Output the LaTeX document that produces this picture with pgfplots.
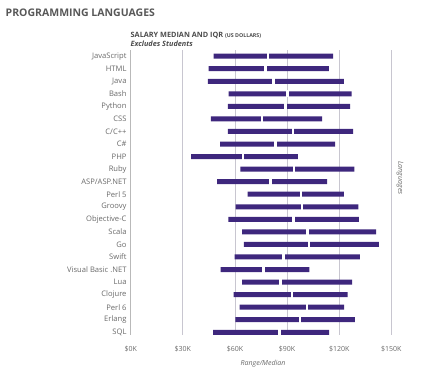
\documentclass[border=0pt]{standalone}
\usepackage{pgfplots}
\usepackage{pgfplotstable}
\pgfplotsset{compat=1.18}
\usepackage{fontspec}
\setmainfont{Open Sans}
\definecolor{barc}{RGB}{62,39,125}
\definecolor{tickc}{RGB}{105,105,105}
\definecolor{gridc}{RGB}{200,198,208}
\definecolor{titlec}{RGB}{88,88,88}
\pgfplotstableread{
row q1 med q3
0 47.7 79.0 116.5
1 44.8 77.5 114.0
2 44.4 82.1 122.7
3 56.3 90.2 127.1
4 56.0 89.0 126.3
5 46.2 75.6 110.2
6 56.0 93.5 128.0
7 51.5 83.3 117.7
8 34.8 64.6 96.2
9 63.1 94.0 128.7
10 49.8 80.4 113.1
11 67.3 98.1 122.7
12 60.4 98.5 131.0
13 56.2 93.8 131.3
14 64.2 101.7 141.2
15 65.2 102.7 142.9
16 59.8 87.9 131.9
17 51.7 76.5 102.9
18 64.2 86.3 127.5
19 59.2 92.9 124.8
20 62.7 101.5 122.9
21 60.2 97.5 129.0
22 47.5 85.6 114.2
}\datatable
\begin{document}
\begin{tikzpicture}
\useasboundingbox (0,0) rectangle (445pt,384pt);
\begin{axis}[
  at={(130.7pt,48.7pt)}, anchor=south west,
  scale only axis, width=260.6pt, height=285.3pt,
  xmin=0, xmax=150, ymin=-0.49, ymax=22.24,
  y dir=reverse,
  xbar stacked, bar width=5pt,
  axis line style={draw=none},
  major tick length=0pt,
  xtick={0,30,60,90,120,150},
  xticklabels={\$0K,\$30K,\$60K,\$90K,\$120K,\$150K},
  ytick={0,...,22},
  yticklabels={JavaScript,HTML,Java,Bash,Python,CSS,C/C++,C\#,PHP,Ruby,ASP/ASP.NET,Perl 5,Groovy,Objective-C,Scala,Go,Swift,Visual Basic .NET,Lua,Clojure,Perl 6,Erlang,SQL},
  xmajorgrids, grid style={gridc, line width=0.8pt},
  ticklabel style={font=\fontsize{7}{8}\selectfont, text=tickc},
  yticklabel style={anchor=east, inner sep=0pt, xshift=-4pt, font=\fontsize{7.6}{8}\selectfont},
  xticklabel style={anchor=base, yshift=-16pt, inner sep=0pt},
  clip=false,
]
\addplot[draw=none, fill=none] table[x=q1, y=row] {\datatable};
\addplot[draw=none, fill=barc] table[x expr=\thisrow{med}-\thisrow{q1}, y=row] {\datatable};
\addplot[draw=none, fill=barc] table[x expr=\thisrow{q3}-\thisrow{med}, y=row] {\datatable};
\addplot[stack plots=false, only marks, mark=|, mark size=3.4pt, mark options={draw=white, line width=2.6pt}] table[x=med, y=row] {\datatable};
\draw[color=gray!55, line width=1.5pt] (axis cs:0,-0.49) -- (axis cs:0,22.24);
\end{axis}
\node[anchor=base west, inner sep=0pt, text=titlec, font=\fontsize{10.5}{12}\selectfont\bfseries] at (5.5pt,367pt) {PROGRAMMING LANGUAGES};
\node[anchor=base west, inner sep=0pt, text=titlec!85!black, font=\fontsize{7.3}{8}\selectfont\bfseries] at (130.5pt,346.7pt) {SALARY MEDIAN AND IQR {\fontsize{5.3}{6}\selectfont (US DOLLARS)}};
\node[anchor=base west, inner sep=0pt, text=titlec!85!black, font=\fontsize{7.3}{8}\selectfont\bfseries\itshape] at (130.5pt,337.3pt) {Excludes Students};
\node[inner sep=0pt, text=tickc, font=\fontsize{7}{8}\selectfont\itshape] at (263pt,20pt) {Range/Median};
\node[inner sep=0pt, text=tickc, font=\fontsize{7}{8}\selectfont\itshape, rotate=-90] at (400pt,206pt) {Languages};
\end{tikzpicture}
\end{document}
